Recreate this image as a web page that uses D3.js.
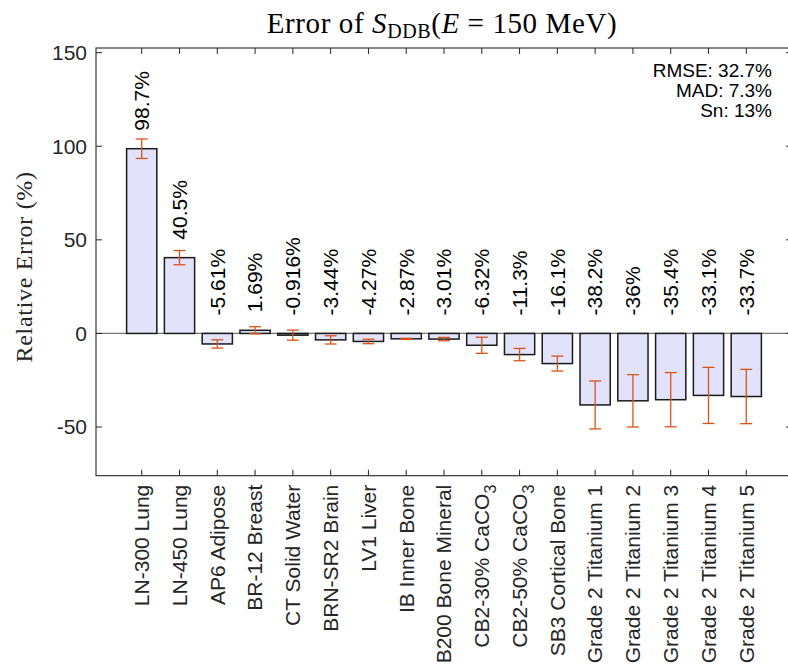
<!DOCTYPE html>
<html>
<head>
<meta charset="utf-8">
<script src="https://cdn.jsdelivr.net/npm/d3@7"></script>
<style>
  html, body { margin: 0; padding: 0; background: #fff; }
  svg { display: block; }
</style>
</head>
<body>
<svg id="chart" width="788" height="671"></svg>
<script>
// ---- data ----
const categories = ["LN-300 Lung", "LN-450 Lung", "AP6 Adipose", "BR-12 Breast", "CT Solid Water",
  "BRN-SR2 Brain", "LV1 Liver", "IB Inner Bone", "B200 Bone Mineral", "CB2-30% CaCO|3",
  "CB2-50% CaCO|3", "SB3 Cortical Bone", "Grade 2 Titanium 1", "Grade 2 Titanium 2",
  "Grade 2 Titanium 3", "Grade 2 Titanium 4", "Grade 2 Titanium 5"];
const values = [98.7, 40.5, -5.61, 1.69, -0.916, -3.44, -4.27, -2.87, -3.01, -6.32, -11.3, -16.1,
  -38.2, -36, -35.4, -33.1, -33.7];
const errors = [5.2, 3.8, 2.2, 1.9, 2.7, 2.2, 1.2, 0.3, 0.9, 4.3, 3.3, 4.0, 12.8, 14.0, 14.5, 15.0, 14.5];
const yTicks = [-50, 0, 50, 100, 150];
const statsLines = ["RMSE: 32.7%", "MAD: 7.3%", "Sn: 13%"];

// ---- layout ----
const svg = d3.select("#chart");
const pL = 96, pR = 792, pT = 48, pB = 475.7;
const axisColor = "#262626";
const sans = "'Liberation Sans', Arial, sans-serif";
const serif = "'Liberation Serif', 'Times New Roman', serif";

const loc = d3.formatLocale({decimal: ".", thousands: ",", grouping: [3], currency: ["", ""], minus: "-"});
const fmt = loc.format(".3~r");

const idx = d3.range(1, categories.length + 1);
const x = d3.scaleLinear().domain([1 - 1.21, categories.length + 1.21]).range([pL, pR]);
const y = d3.scaleLinear().domain([-76, 152.5]).range([pB, pT]);
const bw = 0.8 * (x(2) - x(1));

// baseline at zero
svg.append("line")
  .attr("x1", pL).attr("x2", pR).attr("y1", y(0)).attr("y2", y(0))
  .attr("stroke", "#777").attr("stroke-width", 1.2);

// bars
svg.append("g").selectAll("rect").data(values).join("rect")
  .attr("x", (d, i) => x(idx[i]) - bw / 2)
  .attr("width", bw)
  .attr("y", d => y(Math.max(d, 0)))
  .attr("height", d => Math.abs(y(d) - y(0)))
  .attr("fill", "#e2e2fb")
  .attr("stroke", "#1a1a1a")
  .attr("stroke-width", 1.5);

// error bars
const eb = svg.append("g").attr("stroke", "#D95319").attr("stroke-width", 1.3);
const cap = 6;
values.forEach((v, i) => {
  const cx = x(idx[i]);
  const y1 = y(v + errors[i]), y2 = y(v - errors[i]);
  eb.append("line").attr("x1", cx).attr("x2", cx).attr("y1", y1).attr("y2", y2);
  eb.append("line").attr("x1", cx - cap).attr("x2", cx + cap).attr("y1", y1).attr("y2", y1);
  eb.append("line").attr("x1", cx - cap).attr("x2", cx + cap).attr("y1", y2).attr("y2", y2);
});

// value labels
svg.append("g").selectAll("text").data(values).join("text")
  .attr("transform", (d, i) => `translate(${x(idx[i])},${y(Math.max(d, 0)) - 18}) rotate(-90)`)
  .attr("dy", "0.35em")
  .attr("text-anchor", "start")
  .attr("font-family", sans).attr("font-size", 21).attr("fill", "#000")
  .text(d => fmt(d) + "%");

// box
svg.append("rect")
  .attr("x", pL).attr("y", pT).attr("width", pR - pL).attr("height", pB - pT)
  .attr("fill", "none").attr("stroke", axisColor).attr("stroke-width", 1.1);

// x ticks (bottom and top, inward)
const tl = 6;
idx.forEach(i => {
  svg.append("line").attr("x1", x(i)).attr("x2", x(i)).attr("y1", pB).attr("y2", pB - tl)
    .attr("stroke", axisColor).attr("stroke-width", 1);
  svg.append("line").attr("x1", x(i)).attr("x2", x(i)).attr("y1", pT).attr("y2", pT + tl)
    .attr("stroke", axisColor).attr("stroke-width", 1);
});
// y ticks (left and right, inward)
yTicks.forEach(t => {
  svg.append("line").attr("x1", pL).attr("x2", pL + tl).attr("y1", y(t)).attr("y2", y(t))
    .attr("stroke", axisColor).attr("stroke-width", 1);
  svg.append("line").attr("x1", pR).attr("x2", pR - tl).attr("y1", y(t)).attr("y2", y(t))
    .attr("stroke", axisColor).attr("stroke-width", 1);
});

// y tick labels
svg.append("g").selectAll("text").data(yTicks).join("text")
  .attr("x", pL - 9).attr("y", d => y(d)).attr("dy", "0.35em")
  .attr("text-anchor", "end")
  .attr("font-family", sans).attr("font-size", 21).attr("fill", axisColor)
  .text(d => fmt(d));

// x category labels
const xl = svg.append("g");
categories.forEach((c, i) => {
  const t = xl.append("text")
    .attr("transform", `translate(${x(idx[i])},${pB + 9}) rotate(-90)`)
    .attr("dy", "0.35em")
    .attr("text-anchor", "end")
    .attr("font-family", sans).attr("font-size", 21).attr("fill", axisColor);
  const parts = c.split("|");
  t.append("tspan").text(parts[0]);
  if (parts.length > 1) {
    t.append("tspan").attr("dy", "0.45em").attr("font-size", 16).text(parts[1]);
  }
});

// y axis label
svg.append("text")
  .attr("transform", `translate(32,${(pT + pB) / 2 + 5}) rotate(-90)`)
  .attr("text-anchor", "middle")
  .attr("font-family", serif).attr("font-size", 24).attr("letter-spacing", 0.7)
  .attr("fill", axisColor)
  .text("Relative Error (%)");

// title
const title = svg.append("text")
  .attr("x", 442).attr("y", 33)
  .attr("text-anchor", "middle")
  .attr("font-family", serif).attr("font-size", 29).attr("letter-spacing", 0.6)
  .attr("fill", "#000");
title.append("tspan").text("Error of ");
title.append("tspan").attr("font-style", "italic").text("S");
title.append("tspan").attr("font-size", 20).attr("dy", 5).text("DDB");
title.append("tspan").attr("dy", -5).text("(");
title.append("tspan").attr("font-style", "italic").text("E");
title.append("tspan").text(" = 150 MeV)");

// stats text
svg.append("g").selectAll("text").data(statsLines).join("text")
  .attr("x", 772).attr("y", (d, i) => 77 + i * 20)
  .attr("text-anchor", "end")
  .attr("font-family", sans).attr("font-size", 19).attr("fill", "#000")
  .text(d => d);
</script>
</body>
</html>
